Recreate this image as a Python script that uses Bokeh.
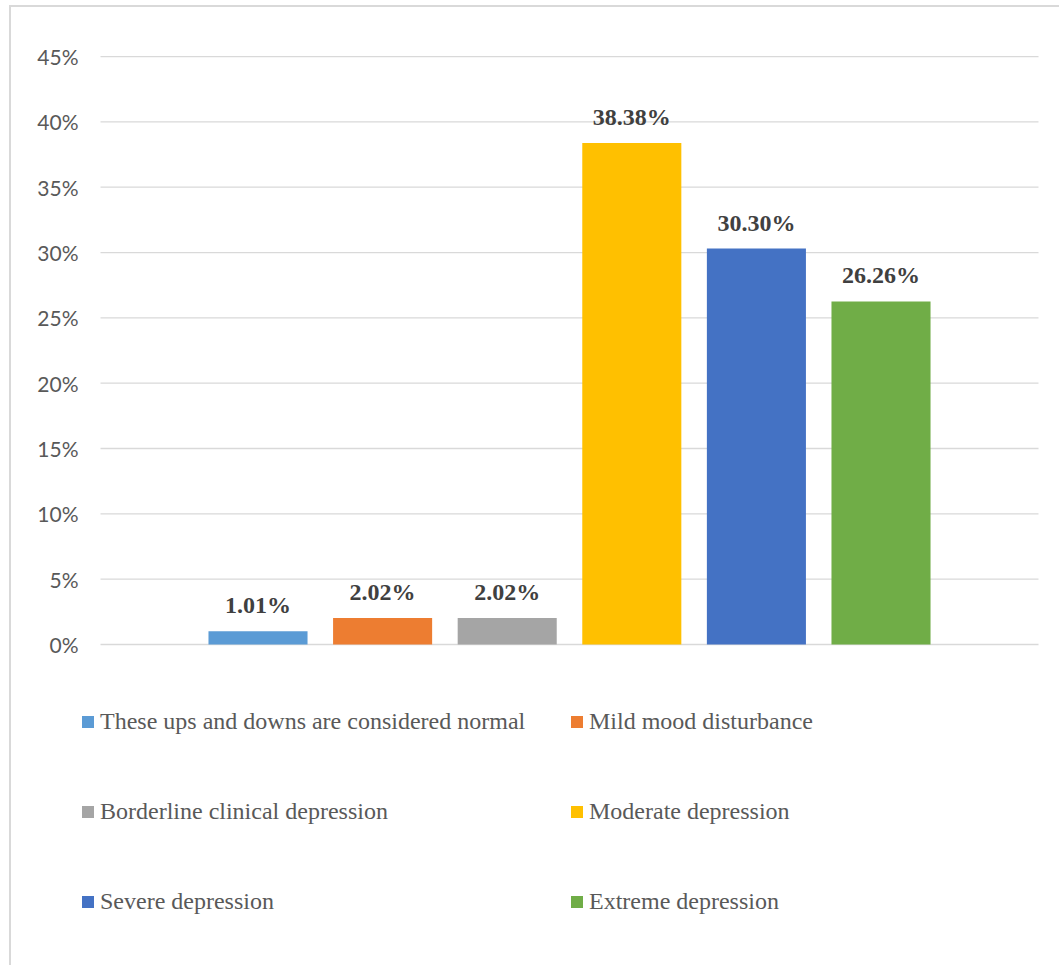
from bokeh.plotting import figure
from bokeh.models import (Range1d, FixedTicker, PrintfTickFormatter, Legend,
                          LegendItem, ColumnDataSource)
from bokeh.core.properties import value
from bokeh.embed import file_html
from bokeh.resources import INLINE

categories = [
    "These ups and downs are considered normal",
    "Mild mood disturbance",
    "Borderline clinical depression",
    "Moderate depression",
    "Severe depression",
    "Extreme depression",
]
percentages = [1.01, 2.02, 2.02, 38.38, 30.30, 26.26]
colors = ["#5B9BD5", "#ED7D31", "#A5A5A5", "#FFC000", "#4472C4", "#70AD47"]
y_ticks = [0, 5, 10, 15, 20, 25, 30, 35, 40, 45]

positions = list(range(1, len(categories) + 1))
labels = [f"{v:.2f}%" for v in percentages]

# plot frame spans the whole chart area (legend lives inside it, below 0%)
p = figure(width=1050, height=960, output_backend="svg", toolbar_location=None,
           x_range=Range1d(-0.4246, 7.4486), y_range=Range1d(-24.72, 45.08),
           min_border_left=69, min_border_right=0, min_border_top=48,
           min_border_bottom=0)
p.outline_line_color = None
p.background_fill_color = "white"
p.border_fill_color = "white"
p.styles = {"border-left": "2px solid #D9D9D9", "border-top": "2px solid #D9D9D9",
            "margin-left": "9px", "margin-top": "5px"}

# gridlines across the category band only
grid_pad = 1.264
p.segment(x0=[positions[0] - grid_pad] * len(y_ticks), y0=y_ticks,
          x1=[positions[-1] + grid_pad] * len(y_ticks), y1=y_ticks,
          line_color="#D9D9D9", line_width=1.3)

renderers = []
for i in range(len(categories)):
    src = ColumnDataSource(dict(x=[positions[i]], top=[percentages[i]]))
    r = p.vbar(x="x", top="top", bottom=0, width=0.795, source=src,
               fill_color=colors[i], line_color=None)
    renderers.append(r)

p.text(x=positions, y=percentages, text=labels, text_align="center",
       text_baseline="alphabetic", y_offset=-26,
       text_font=value("Liberation Serif"), text_font_style="bold",
       text_font_size="24px", text_color="#404040")

p.xaxis.visible = False
p.xgrid.grid_line_color = None
p.ygrid.grid_line_color = None
p.yaxis.ticker = FixedTicker(ticks=y_ticks)
p.yaxis.formatter = PrintfTickFormatter(format="%d%%")
p.yaxis.axis_line_color = None
p.yaxis.major_tick_line_color = None
p.yaxis.minor_tick_line_color = None
p.yaxis.major_tick_out = 0
p.yaxis.major_tick_in = 0
p.yaxis.major_label_standoff = 2
p.yaxis.major_label_text_font = "Lato"
p.yaxis.major_label_text_font_size = "21px"
p.yaxis.major_label_text_color = "#595959"

def make_legend(idx, loc):
    lg = Legend(items=[LegendItem(label=categories[i], renderers=[renderers[i]]) for i in idx],
                location=loc, orientation="vertical")
    lg.label_text_font = "Liberation Serif"
    lg.label_text_font_size = "24px"
    lg.label_text_color = "#595959"
    lg.glyph_width = 15
    lg.glyph_height = 15
    lg.label_height = 30
    lg.label_standoff = 5
    lg.spacing = 60
    lg.padding = 0
    lg.margin = 0
    lg.border_line_color = None
    lg.background_fill_alpha = 0
    return lg

p.add_layout(make_legend([0, 2, 4], (0, 51)))
p.add_layout(make_legend([1, 3, 5], (489, 51)))

open("out.html", "w").write(file_html(p, INLINE))
